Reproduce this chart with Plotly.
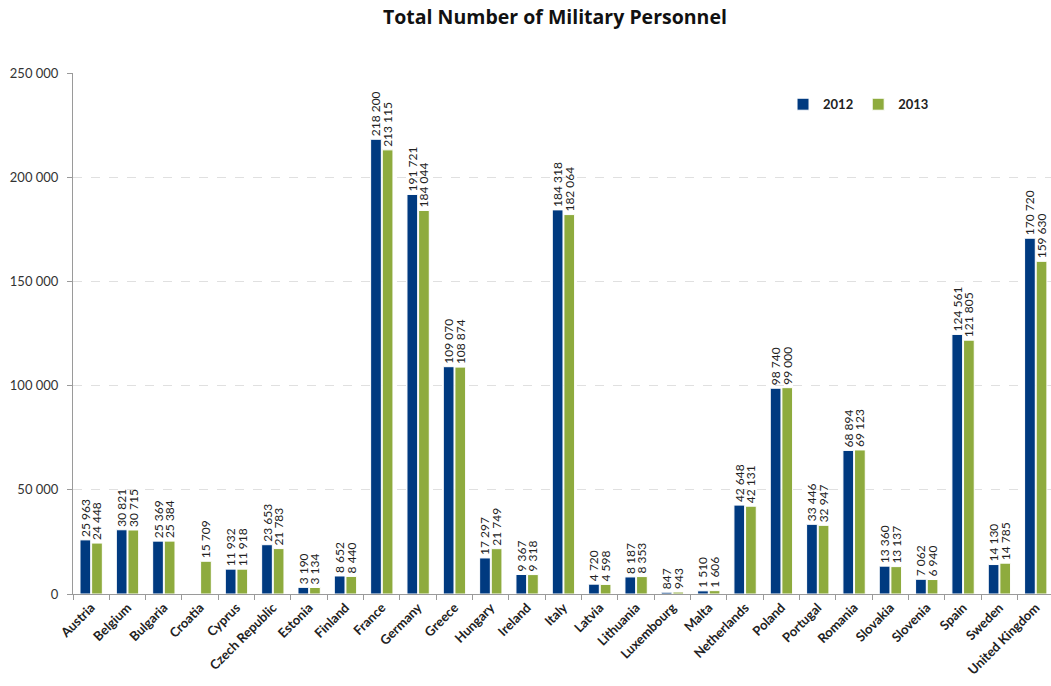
import plotly.graph_objects as go

countries = ["Austria", "Belgium", "Bulgaria", "Croatia", "Cyprus", "Czech Republic", "Estonia",
             "Finland", "France", "Germany", "Greece", "Hungary", "Ireland", "Italy", "Latvia",
             "Lithuania", "Luxembourg", "Malta", "Netherlands", "Poland", "Portugal", "Romania",
             "Slovakia", "Slovenia", "Spain", "Sweden", "United Kingdom"]
v2012 = [25963, 30821, 25369, None, 11932, 23653, 3190, 8652, 218200, 191721, 109070, 17297, 9367,
         184318, 4720, 8187, 847, 1510, 42648, 98740, 33446, 68894, 13360, 7062, 124561, 14130, 170720]
v2013 = [24448, 30715, 25384, 15709, 11918, 21783, 3134, 8440, 213115, 184044, 108874, 21749, 9318,
         182064, 4598, 8353, 943, 1606, 42131, 99000, 32947, 69123, 13137, 6940, 121805, 14785, 159630]
ytickvals = [0, 50000, 100000, 150000, 200000, 250000]
yticktext = ["0", "50 000", "100 000", "150 000", "200 000", "250 000"]

def fmt(v):
    return "" if v is None else f"{v:,}".replace(",", " ")

FONT = "Lato, 'Open Sans', sans-serif"
BLUE = "#003A80"
GREEN = "#8EAB3E"

fig = go.Figure()
for name, vals, col in [("2012", v2012, BLUE), ("2013", v2013, GREEN)]:
    fig.add_trace(go.Bar(
        x=countries, y=vals, name=name,
        marker=dict(color=col, line=dict(color="white", width=1)),
        text=[fmt(v) for v in vals], textposition="outside", textangle=-90,
        constraintext="none", cliponaxis=False,
        textfont=dict(family=FONT, size=12, color="#222222"),
    ))

fig.update_layout(
    width=1051, height=686,
    margin=dict(l=73, r=0, t=73, b=92),
    paper_bgcolor="white", plot_bgcolor="white",
    barmode="group", bargap=0.36, bargroupgap=0.08,
    title=dict(text="<b>Total Number of Military Personnel</b>", x=0.528, xanchor="center",
               y=0.975, yanchor="middle",
               font=dict(family="'Open Sans', sans-serif", size=19.5, color="#111111")),
    showlegend=True,
    legend=dict(orientation="h", x=0.726, y=0.94, xanchor="left", yanchor="middle",
                font=dict(family=FONT, size=13, color="#222222", weight="bold"),
                itemwidth=30, traceorder="normal", bgcolor="rgba(0,0,0,0)"),
    font=dict(family=FONT, color="#222222"),
)
fig.update_xaxes(
    range=[-0.5, 26.42], type="category",
    tickangle=-45, tickfont=dict(family=FONT, size=13, color="#222222", weight="bold"),
    showline=True, linecolor="#9a9a9a", linewidth=1,
    ticks="outside", tickson="boundaries", ticklen=5, tickcolor="#9a9a9a",
    showgrid=False,
)
fig.update_yaxes(
    range=[0, 250000], tickvals=ytickvals, ticktext=yticktext,
    tickfont=dict(family=FONT, size=13, color="#333333"),
    showline=True, linecolor="#9a9a9a", linewidth=1,
    ticks="outside", ticklen=5, tickcolor="#9a9a9a", ticklabelstandoff=6,
    showgrid=True, gridcolor="#e0e0e0", griddash="dash", gridwidth=1,
    zeroline=False,
)
fig.write_html("out.html")
